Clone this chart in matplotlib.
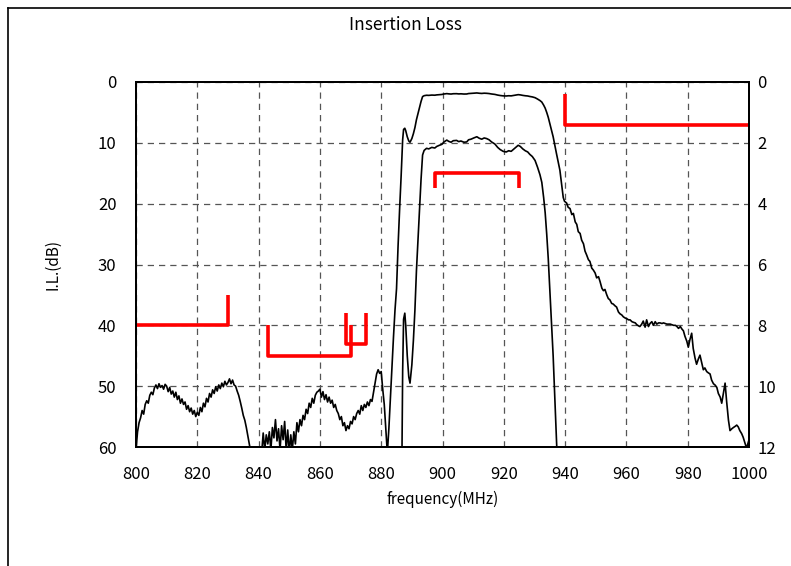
import matplotlib
matplotlib.use("Agg")
import matplotlib.pyplot as plt
import numpy as np

plt.rcParams["font.family"] = ["Noto Sans CJK JP", "DejaVu Sans"]

low_f = [800.0, 800.5, 801.0, 801.5, 802.0, 802.5, 803.0, 803.5, 804.0, 804.5,
         805.0, 805.5, 806.0, 806.5, 807.0, 807.5, 808.0, 808.5, 809.0, 809.5,
         810.0, 810.5, 811.0, 811.5, 812.0, 812.5, 813.0, 813.5, 814.0, 814.5,
         815.0, 815.5, 816.0, 816.5, 817.0, 817.5, 818.0, 818.5, 819.0, 819.5,
         820.0, 820.5, 821.0, 821.5, 822.0, 822.5, 823.0, 823.5, 824.0, 824.5,
         825.0, 825.5, 826.0, 826.5, 827.0, 827.5, 828.0, 828.5, 829.0, 829.5,
         830.0, 830.5, 831.0, 831.5, 832.0, 832.5, 833.0, 833.5, 834.0, 834.5,
         835.0, 835.5, 836.0, 836.5, 837.0, 837.5, 838.5, 840.0, 841.0]
low_db = [60.5, 57.5, 56.0, 55.2, 54.0, 54.6, 53.0, 52.4, 52.8, 51.5,
          51.0, 51.4, 50.3, 49.8, 50.4, 49.6, 50.2, 49.9, 50.5, 49.7,
          50.0, 50.9, 50.2, 51.3, 50.8, 51.8, 51.0, 52.2, 51.6, 52.8,
          52.1, 53.0, 52.6, 53.8, 53.2, 54.2, 53.6, 54.6, 54.0, 55.0,
          54.3, 54.8, 53.5, 54.2, 52.8, 53.4, 52.0, 52.6, 51.2, 51.8,
          50.6, 51.2, 50.1, 50.8, 49.8, 50.4, 49.5, 50.1, 49.2, 49.8,
          49.4, 48.8, 49.6, 49.0, 49.8, 50.0, 50.8, 51.5, 52.5, 53.6,
          54.8, 55.6, 56.8, 58.2, 59.5, 61.0, 63.0, 64.0, 61.0]

mid_f = [841.5, 842.0, 842.5, 843.0, 843.5, 844.0, 844.5, 845.0, 845.5, 846.0,
         846.5, 847.0, 847.5, 848.0, 848.5, 849.0, 849.5, 850.0, 850.5, 851.0,
         851.5, 852.0, 852.5, 853.0, 853.5, 854.0, 854.5, 855.0, 855.5, 856.0,
         856.5, 857.0, 857.5, 858.0, 858.5, 859.0, 859.5, 860.0, 860.5, 861.0,
         861.5, 862.0, 862.5, 863.0, 863.5, 864.0, 864.5, 865.0, 865.5, 866.0,
         866.5, 867.0, 867.5, 868.0, 868.5, 869.0, 869.5, 870.0, 870.5, 871.0,
         871.5, 872.0, 872.5, 873.0, 873.5, 874.0, 874.5, 875.0, 875.5, 876.0,
         876.5, 877.0, 877.5, 878.0, 878.5, 879.0, 879.5, 880.0, 880.5, 881.0,
         881.5, 882.0]
mid_db = [57.7, 60.5, 58.0, 59.5, 57.5, 60.5, 56.8, 58.5, 55.5, 59.0,
          57.0, 60.5, 56.5, 58.8, 55.8, 60.5, 57.2, 61.0, 58.0, 60.5,
          57.5, 59.5, 56.0, 57.5, 55.5, 56.5, 54.8, 55.5, 53.8, 54.5,
          52.8, 53.5, 52.0, 52.8, 51.5, 51.0, 50.8, 50.5, 51.8, 50.9,
          52.2, 51.4, 52.6, 51.8, 52.8, 52.3, 53.5, 53.0, 54.0, 54.5,
          55.5, 55.0, 56.5, 56.0, 57.3, 56.5, 57.0, 55.8, 56.2, 55.0,
          55.5, 54.5, 54.0, 54.6, 53.2, 54.0, 53.0, 53.5, 52.6, 53.2,
          52.2, 52.5, 51.0, 49.5, 48.0, 47.3, 47.9, 47.6, 50.5, 53.0,
          57.0, 61.0]

pass_f = [882.5, 883.0, 883.5, 884.0, 884.5, 885.0, 885.5, 886.0, 886.5, 887.0,
          887.3, 887.7, 888.0, 888.5, 889.0, 889.4, 890.0, 890.5, 891.0, 891.5,
          892.0, 892.5, 893.0, 893.5, 894.0, 894.8, 895.5, 896.5, 897.5, 898.1,
          899.0, 899.8, 900.5, 901.4, 902.0, 902.8, 903.5, 904.6, 905.3, 906.0,
          907.0, 907.9, 908.5, 909.3, 910.2, 911.2, 912.0, 912.8, 913.6, 914.4,
          915.2, 916.0, 917.1, 918.0, 918.8, 919.8, 920.8, 921.6, 922.4, 923.1,
          923.9, 924.7, 925.4, 926.2, 927.0, 927.8, 928.5, 929.3, 930.2, 931.0,
          931.8, 932.4, 933.0, 933.5, 934.0, 934.5, 935.0, 935.5, 936.1, 936.6,
          937.2, 937.7, 938.3, 938.8, 939.4]
pass_db = [57.0, 52.0, 47.0, 42.0, 37.5, 34.0, 27.0, 21.0, 15.5, 9.5,
           7.8, 7.6, 8.0, 9.0, 9.7, 9.9, 9.3, 8.5, 7.5, 6.2,
           5.2, 4.2, 3.2, 2.4, 2.25, 2.18, 2.2, 2.15, 2.17, 2.12,
           2.08, 2.05, 1.97, 1.91, 1.95, 1.98, 1.93, 1.92, 1.96, 1.94,
           1.98, 1.97, 1.90, 1.88, 1.84, 1.80, 1.85, 1.88, 1.84, 1.86,
           1.90, 1.97, 2.04, 2.15, 2.22, 2.28, 2.30, 2.26, 2.28, 2.22,
           2.15, 2.08, 2.12, 2.20, 2.26, 2.30, 2.38, 2.45, 2.58, 2.80,
           3.05, 3.3, 3.8, 4.3, 5.0, 5.8, 6.8, 7.8, 9.0, 10.3,
           11.8, 13.0, 14.5, 16.6, 19.0]

high_f = [939.8, 940.5, 941.0, 941.6, 942.2, 942.7, 943.3, 943.8, 944.3, 944.9,
          945.4, 946.0, 946.5, 947.0, 947.6, 948.1, 948.7, 949.2, 949.8, 950.3,
          950.9, 951.4, 952.0, 952.5, 953.0, 953.6, 954.1, 954.6, 955.2, 955.7,
          956.3, 956.8, 957.4, 957.9, 958.5, 959.0, 959.6, 960.1, 960.7, 961.2,
          961.8, 962.3, 962.9, 963.4, 964.0, 964.4, 965.0, 965.5, 966.1, 966.6,
          967.2, 967.7, 968.3, 968.8, 969.4, 969.9, 970.5, 971.0, 971.6, 972.1,
          972.7, 973.2, 973.8, 974.3, 974.9, 975.4, 976.0, 976.5, 977.0, 977.6,
          978.1, 978.6, 979.1, 979.7, 980.2, 980.7, 981.3, 981.8, 982.4, 982.9,
          983.5, 984.0, 984.5, 985.1, 985.6, 986.2, 986.7, 987.3, 987.8, 988.4,
          988.9, 989.5, 990.0, 990.6, 991.1, 991.7, 992.2, 992.7, 993.3, 993.8,
          994.4, 994.9, 995.5, 996.0, 996.5, 997.0, 997.6, 998.1, 998.6, 999.2,
          999.6, 1000.0]
high_db = [19.6, 19.9, 20.6, 20.8, 21.8, 21.6, 23.0, 23.4, 24.6, 24.9,
           26.0, 26.6, 27.8, 28.4, 29.2, 29.5, 30.6, 30.9, 31.4, 32.2,
           32.0, 32.8, 33.9, 34.3, 34.1, 35.0, 35.6, 35.8, 36.4, 36.5,
           36.8, 37.0, 37.8, 38.1, 38.3, 38.6, 38.8, 38.9, 39.1, 39.1,
           39.4, 39.5, 39.6, 39.9, 40.1, 40.2, 39.8, 39.3, 40.3, 39.1,
           40.2, 39.7, 39.4, 40.0, 39.4, 39.8, 39.6, 39.6, 39.7, 39.6,
           39.7, 39.8, 39.8, 39.8, 39.9, 40.0, 40.0, 40.2, 40.5, 40.2,
           40.6, 40.9, 41.8, 42.6, 43.6, 42.4, 41.3, 43.8, 45.4, 46.4,
           45.5, 44.9, 46.0, 47.3, 47.0, 47.6, 47.8, 48.0, 49.0, 49.6,
           49.8, 50.2, 51.2, 51.8, 52.8, 51.0, 49.5, 52.5, 55.6, 57.3,
           57.0, 56.8, 56.6, 56.4, 56.7, 57.3, 57.8, 58.4, 59.2, 60.2,
           59.5, 58.8]

freq = low_f + mid_f + pass_f + high_f
loss = low_db + mid_db + pass_db + high_db

# spec masks: (freq list, dB list); the passband one is read on the right axis
stop_masks = [
    ([800, 830, 830], [40, 40, 35]),
    ([843, 843, 870, 870], [40, 45, 45, 40]),
    ([868.5, 868.5, 875, 875], [38, 43, 43, 38]),
    ([940, 940, 1000], [2, 7, 7]),
]
pass_mask = ([897.5, 897.5, 925, 925], [3.5, 3, 3, 3.5])

x_ticks = list(range(800, 1001, 20))
left_ticks = list(range(0, 61, 10))
right_ticks = list(range(0, 13, 2))

fig = plt.figure(figsize=(7.91, 5.66), dpi=100)
ax = fig.add_axes([136 / 791, 1 - 447 / 566, 613 / 791, 365 / 566])
ax2 = ax.twinx()

ax.plot(freq, loss, color="black", linewidth=1.2)
ax2.plot(freq, loss, color="black", linewidth=1.2)

for mf, md in stop_masks:
    ax.plot(mf, md, color="red", linewidth=2.6, solid_capstyle="butt")
ax2.plot(pass_mask[0], pass_mask[1], color="red", linewidth=2.6, solid_capstyle="butt")

ax.set_xlim(800, 1000)
ax.set_ylim(60, 0)
ax2.set_ylim(12, 0)
ax.set_xticks(x_ticks)
ax.set_yticks(left_ticks)
ax2.set_yticks(right_ticks)

ax.grid(True, color="#555555", linestyle=(0, (5, 4)), linewidth=0.9)
ax.tick_params(axis="x", length=0, pad=14, labelsize=12)
ax.tick_params(axis="y", length=0, pad=14, labelsize=12)
ax2.tick_params(axis="y", length=0, pad=6, labelsize=12)
for a in (ax, ax2):
    for s in a.spines.values():
        s.set_linewidth(1.4)

ax.set_xlabel("frequency(MHz)", fontsize=11, labelpad=5)
ax.set_ylabel("I.L.(dB)", fontsize=11, labelpad=26)
fig.text(405 / 791, 1 - 25 / 566, "Insertion Loss", ha="center", va="center", fontsize=12.5)

# outer frame lines (top and left only visible in the original)
fig.add_artist(plt.Line2D([8 / 791, 1], [1 - 8 / 566, 1 - 8 / 566], color="black", linewidth=1.2))
fig.add_artist(plt.Line2D([8 / 791, 8 / 791], [0, 1 - 8 / 566], color="black", linewidth=1.2))

fig.savefig("out.png", dpi=100)
